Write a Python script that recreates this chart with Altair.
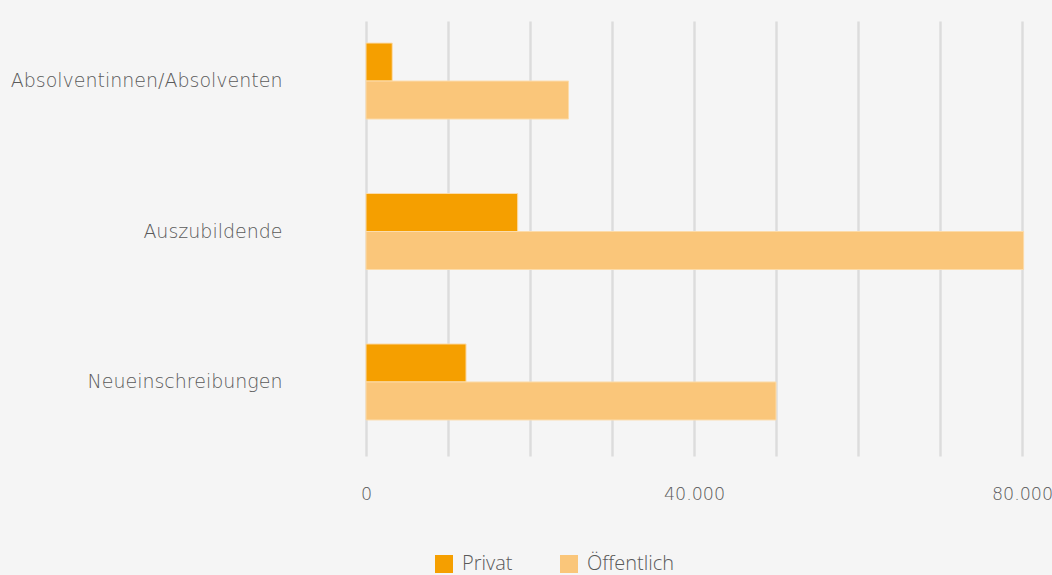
import altair as alt
import pandas as pd

categories = ["Absolventinnen/Absolventen", "Auszubildende", "Neueinschreibungen"]
series = ["Privat", "Öffentlich"]
privat = [3200, 18500, 12200]
oeffentlich = [24700, 80200, 50000]
x_ticks = [0, 10000, 20000, 30000, 40000, 50000, 60000, 70000, 80000]

rows = []
for c, p, o in zip(categories, privat, oeffentlich):
    rows.append({"Kategorie": c, "Serie": series[0], "Wert": p})
    rows.append({"Kategorie": c, "Serie": series[1], "Wert": o})
df = pd.DataFrame(rows)

AXFONT = "DejaVu Sans"
FONT = "Open Sans"
TXT = "#5a5a5a"

chart = alt.Chart(df).mark_bar(stroke="#fcdcab", strokeWidth=1).encode(
    x=alt.X("Wert:Q",
            scale=alt.Scale(domain=[0, 80000], nice=False, clamp=False),
            axis=alt.Axis(values=x_ticks, title=None, domain=False, ticks=False, tickSize=0,
                          labelExpr="datum.value % 40000 == 0 ? replace(format(datum.value, ','), ',', '.') : ''",
                          labelFlush=False,
                          labelPadding=29, labelFontSize=17.5, labelColor=TXT, labelFont=AXFONT,
                          labelFontWeight=300,
                          grid=True, gridColor="#dcdcdc", gridWidth=2.5)),
    y=alt.Y("Kategorie:N", sort=categories,
            scale=alt.Scale(range=[0, 435], paddingInner=0.495, paddingOuter=0.193),
            axis=alt.Axis(title=None, domain=False, ticks=False, tickSize=0, labelPadding=84,
                          labelFontSize=19, labelColor=TXT, labelFont=AXFONT, labelFontWeight=300,
                          labelLimit=400)),
    yOffset=alt.YOffset("Serie:N", sort=series),
    color=alt.Color("Serie:N", sort=series,
                    scale=alt.Scale(domain=series, range=["#f59f00", "#fac67a"]),
                    legend=alt.Legend(title=None, orient="none", direction="horizontal",
                                      legendX=68, legendY=540, padding=0,
                                      symbolType="square", symbolSize=324, symbolStrokeWidth=0,
                                      labelFontSize=20, labelFont=FONT, labelColor=TXT,
                                      labelFontWeight=300,
                                      labelOffset=8, columnPadding=46)),
).properties(
    width=656, height=442,
    autosize=alt.AutoSizeParams(type="none"),
    padding={"left": 366, "top": 14, "right": 30, "bottom": 119},
    background="#f5f5f5",
).configure_view(stroke=None)

chart.save("out.html", embed_options={"renderer": "svg", "actions": False})
